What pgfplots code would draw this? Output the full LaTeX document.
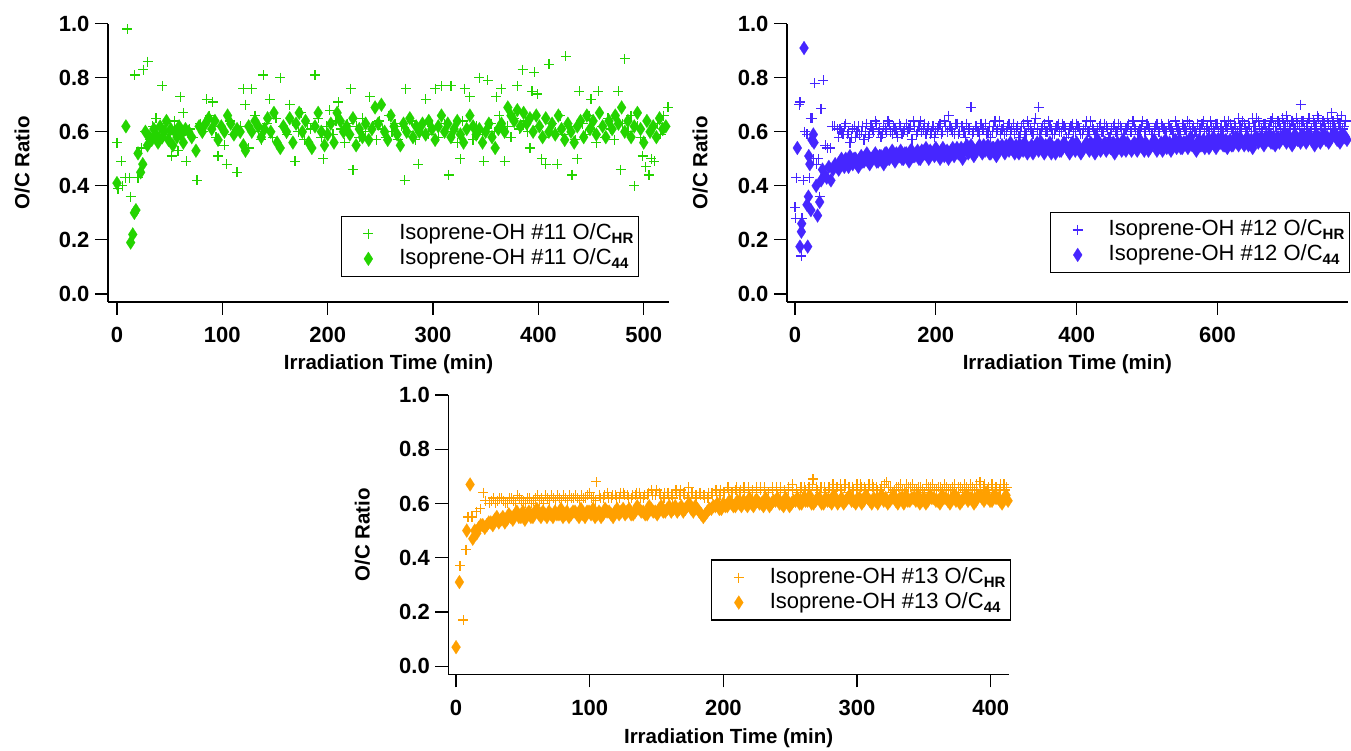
\documentclass[border=0pt]{standalone}
\usepackage{fontspec}
\setmainfont{Liberation Sans}
\usepackage{pgfplots}
\pgfplotsset{compat=1.18}
\definecolor{cgreen}{RGB}{36,212,0}
\definecolor{cblue}{RGB}{70,38,255}
\definecolor{corange}{RGB}{255,160,0}
\newcommand{\sub}[1]{\raisebox{-4pt}{\fontsize{15}{15}\selectfont\bfseries #1}}
\pgfplotsset{
  igor/.style={
    scale only axis,
    axis x line*=bottom, axis y line*=left,
    axis line style={-, line width=1.3pt},
    tick style={black, line width=1.3pt},
    major tick length=13pt,
    tick align=outside,
    ymin=-0.03, ymax=1.0,
    ytick={0,0.2,0.4,0.6,0.8,1.0}, yticklabels={0.0,0.2,0.4,0.6,0.8,1.0},
    ticklabel style={font=\fontsize{22}{22}\selectfont\bfseries},
    xticklabel style={yshift=-9pt},
    yticklabel style={xshift=-2pt},
    label style={font=\fontsize{20.5}{20.5}\selectfont\bfseries},
    xlabel={Irradiation Time (min)}, ylabel={O/C Ratio},
    clip=false,
    legend style={anchor=south east, draw=black, line width=1.2pt, fill=white,
      font=\fontsize{22}{22}\selectfont, inner xsep=5pt, inner ysep=7pt, row sep=4pt,
      cells={anchor=west}, nodes={inner sep=0pt, text height=16pt, text depth=5pt},
      /tikz/every odd column/.append style={column sep=9pt}},
  },
  hr/.style={only marks, mark=+, mark size=5pt, line width=1.2pt,
    legend image code/.code={\draw[##1] plot coordinates {(22pt,0pt)}; \path[draw=none,fill=none] (0pt,-3pt) rectangle (44pt,3pt);}},
  c44/.style={only marks, mark=diamond*, mark size=7pt, line width=0.1pt, mark options={xscale=0.86},
    legend image code/.code={\draw[##1] plot coordinates {(22pt,0pt)}; \path[draw=none,fill=none] (0pt,-3pt) rectangle (44pt,3pt);}},
}
\begin{document}
\begin{tikzpicture}
\path[use as bounding box] (0pt,0pt) rectangle (1351pt,751pt);
% ---------------- Panel 1 ----------------
\begin{axis}[igor, at={(108pt,449pt)}, anchor=south west, width=561pt, height=278.3pt,
  xmin=-8.5, xmax=524, xtick={0,100,200,300,400,500}, xticklabels={0,100,200,300,400,500},
  xlabel style={at={(axis description cs:0.5,-0.222)}, anchor=center},
  ylabel style={at={(axis description cs:-0.153,0.5)}, anchor=center},
  legend style={at={(axis description cs:0.9465,0.09)}}]
\addplot[hr, cgreen] table {
t v
0 0.56
1 0.39
4 0.49
5 0.40
8 0.43
10 0.98
12 0.43
13 0.36
17 0.81
20 0.43
23 0.54
25 0.83
27 0.60
29 0.86
31 0.57
34 0.62
37 0.65
40 0.58
43 0.77
46 0.63
49 0.59
52 0.51
55 0.64
58 0.53
60 0.73
63 0.67
66 0.49
69 0.61
72 0.58
76 0.42
79 0.63
82 0.60
85 0.72
88 0.66
91 0.71
94 0.58
96 0.51
99 0.62
102 0.55
104 0.48
107 0.64
110 0.59
114 0.45
117 0.62
120 0.76
122 0.70
125 0.54
128 0.76
131 0.66
134 0.60
137 0.57
139 0.81
142 0.63
145 0.72
148 0.58
151 0.65
155 0.80
158 0.62
161 0.59
164 0.70
167 0.64
169 0.49
172 0.60
175 0.67
178 0.57
181 0.63
184 0.61
188 0.81
191 0.65
194 0.58
196 0.50
199 0.62
202 0.68
205 0.59
208 0.64
210 0.71
213 0.61
216 0.56
219 0.63
222 0.76
224 0.46
227 0.62
230 0.58
233 0.65
236 0.60
240 0.73
243 0.62
246 0.57
249 0.64
252 0.61
255 0.58
258 0.66
261 0.60
264 0.63
267 0.57
270 0.62
273 0.42
274 0.76
277 0.60
280 0.64
283 0.57
286 0.48
289 0.63
293 0.72
296 0.59
299 0.62
302 0.76
305 0.58
308 0.77
311 0.63
315 0.44
317 0.77
320 0.60
323 0.56
326 0.50
328 0.64
330 0.76
333 0.61
335 0.73
338 0.57
341 0.62
344 0.80
347 0.59
348 0.49
352 0.79
355 0.63
358 0.60
360 0.73
363 0.66
365 0.76
368 0.49
371 0.62
374 0.58
377 0.65
380 0.77
382 0.61
385 0.83
388 0.64
390 0.60
392 0.54
394 0.75
396 0.82
399 0.74
401 0.62
403 0.50
405 0.58
407 0.48
410 0.85
413 0.63
416 0.60
418 0.48
421 0.66
423 0.59
426 0.88
429 0.62
432 0.44
435 0.57
437 0.50
439 0.75
442 0.63
445 0.59
448 0.66
450 0.72
453 0.60
455 0.56
457 0.75
460 0.62
463 0.58
466 0.65
469 0.61
472 0.57
476 0.75
478 0.46
480 0.63
482 0.87
485 0.60
488 0.66
491 0.40
494 0.62
497 0.58
499 0.51
502 0.47
505 0.44
507 0.50
510 0.49
513 0.63
516 0.59
519 0.66
523 0.69
};
\addlegendentry{Isoprene-OH \#11 O/C\sub{HR}}
\addplot[c44, cgreen] table {
t v
0 0.41
8.5 0.62
13 0.19
15 0.22
16.5 0.30
18 0.31
20 0.52
22.5 0.45
24.5 0.48
27 0.60
29 0.55
31 0.58
33 0.57
35 0.61
37 0.59
39 0.56
41 0.62
43 0.58
45 0.60
47 0.64
49 0.57
51 0.61
53 0.55
55 0.60
57 0.58
59 0.62
61 0.59
63 0.56
65 0.61
68 0.60
71 0.58
75 0.53
78 0.62
81 0.60
84 0.63
87 0.65
90 0.61
93 0.64
96 0.57
99 0.62
102 0.60
105 0.66
108 0.63
111 0.59
114 0.61
117 0.60
120 0.55
122 0.53
125 0.62
128 0.60
131 0.64
134 0.62
137 0.58
140 0.61
143 0.65
146 0.60
149 0.67
152 0.56
155 0.54
158 0.62
161 0.60
164 0.65
167 0.56
170 0.63
173 0.67
176 0.60
179 0.64
182 0.56
185 0.54
188 0.62
191 0.67
194 0.60
197 0.55
200 0.59
203 0.63
206 0.56
209 0.67
212 0.64
215 0.60
218 0.62
221 0.59
224 0.65
227 0.55
230 0.61
233 0.58
236 0.63
239 0.57
242 0.61
245 0.69
248 0.63
251 0.70
254 0.60
257 0.57
260 0.66
263 0.62
266 0.59
269 0.55
272 0.63
275 0.60
278 0.65
281 0.58
284 0.62
287 0.60
290 0.63
293 0.59
296 0.64
299 0.61
302 0.57
305 0.62
308 0.66
311 0.60
314 0.63
317 0.58
320 0.61
323 0.64
326 0.59
329 0.56
332 0.61
335 0.66
338 0.62
341 0.59
344 0.61
347 0.56
350 0.60
353 0.63
356 0.58
359 0.54
362 0.61
365 0.63
368 0.60
371 0.69
374 0.66
377 0.64
380 0.68
383 0.62
386 0.67
389 0.63
392 0.65
395 0.60
398 0.66
401 0.62
404 0.58
407 0.65
410 0.60
413 0.63
416 0.59
419 0.66
422 0.61
425 0.57
428 0.63
431 0.60
434 0.56
437 0.62
440 0.64
443 0.58
446 0.66
449 0.61
452 0.64
455 0.59
458 0.67
461 0.62
464 0.58
467 0.64
470 0.61
473 0.66
476 0.63
479 0.69
482 0.60
485 0.64
488 0.58
491 0.62
494 0.67
497 0.61
500 0.56
503 0.64
506 0.60
509 0.62
512 0.58
515 0.65
518 0.61
521 0.62
};
\addlegendentry{Isoprene-OH \#11 O/C\sub{44}}
\end{axis}
% ---------------- Panel 2 ----------------
\begin{axis}[igor, at={(787pt,449pt)}, anchor=south west, width=560.7pt, height=278.3pt,
  xmin=-11.4, xmax=785, xtick={0,200,400,600}, xticklabels={0,200,400,600},
  xlabel style={at={(axis description cs:0.5,-0.222)}, anchor=center},
  ylabel style={at={(axis description cs:-0.155,0.5)}, anchor=center},
  legend style={at={(axis description cs:1.004,0.104)}}]
\addplot[hr, cblue] table {
t v
0 0.32
1 0.28
2 0.43
6 0.70
7 0.71
9 0.14
10 0.28
12 0.42
14 0.60
17 0.59
20 0.43
22 0.65
24 0.65
26 0.50
28 0.78
30 0.48
33 0.50
35 0.36
37 0.685
40 0.79
43 0.55
46 0.54
50 0.54
53 0.62
56 0.62
60 0.61
62 0.58
66 0.60
70 0.62
74 0.59
78 0.56
82 0.61
86 0.58
90 0.62
94 0.60
98 0.57
102 0.63
106 0.59
110 0.61
114 0.64
118 0.60
122 0.58
126 0.62
130 0.60
134 0.63
138 0.59
142 0.61
146 0.58
150 0.62
154 0.60
158 0.63
162 0.61
166 0.57
170 0.62
174 0.60
178 0.64
182 0.61
186 0.59
190 0.62
194 0.60
198 0.58
202 0.61
206 0.63
210 0.60
214 0.62
218 0.66
222 0.61
226 0.59
230 0.63
234 0.60
238 0.62
242 0.58
246 0.61
250 0.69
254 0.60
258 0.62
262 0.59
266 0.61
270 0.63
274 0.60
278 0.58
282 0.62
286 0.60
290 0.64
294 0.61
298 0.59
302 0.62
306 0.60
310 0.63
314 0.61
318 0.58
322 0.62
326 0.60
330 0.64
334 0.61
338 0.59
342 0.65
346 0.69
350 0.61
354 0.63
358 0.60
362 0.62
366 0.59
370 0.61
374 0.63
378 0.60
382 0.62
386 0.58
390 0.61
394 0.63
398 0.60
402 0.62
406 0.59
410 0.61
414 0.64
418 0.60
422 0.62
426 0.59
430 0.61
434 0.63
438 0.60
442 0.62
446 0.58
450 0.61
454 0.63
458 0.60
462 0.62
466 0.59
470 0.61
474 0.63
478 0.60
482 0.62
486 0.59
490 0.61
494 0.64
498 0.60
502 0.62
506 0.59
510 0.61
514 0.63
518 0.60
522 0.62
526 0.60
530 0.63
534 0.61
538 0.59
542 0.62
546 0.60
550 0.63
554 0.61
558 0.64
562 0.60
566 0.62
570 0.59
574 0.61
578 0.63
582 0.60
586 0.62
590 0.64
594 0.61
598 0.63
602 0.60
606 0.62
610 0.64
614 0.61
618 0.63
622 0.60
626 0.62
630 0.65
634 0.61
638 0.63
642 0.60
646 0.62
650 0.65
654 0.62
658 0.64
662 0.61
666 0.63
670 0.60
674 0.62
678 0.65
682 0.62
686 0.64
690 0.61
694 0.63
698 0.66
702 0.62
706 0.64
710 0.61
714 0.63
718 0.70
722 0.64
726 0.62
730 0.65
734 0.61
738 0.63
742 0.66
746 0.62
750 0.64
754 0.61
758 0.63
762 0.67
766 0.62
770 0.65
774 0.63
778 0.61
782 0.64
64 0.61
68 0.59
72 0.63
76 0.60
80 0.58
84 0.62
88 0.60
92 0.59
96 0.62
100 0.60
104 0.58
108 0.62
112 0.60
116 0.63
120 0.61
124 0.59
128 0.61
132 0.64
136 0.60
140 0.62
144 0.60
148 0.63
152 0.59
156 0.61
160 0.60
164 0.62
168 0.64
172 0.59
176 0.62
180 0.60
184 0.63
188 0.61
192 0.59
196 0.62
200 0.60
204 0.62
208 0.59
212 0.64
216 0.60
220 0.62
224 0.60
228 0.63
232 0.59
236 0.62
240 0.60
244 0.63
248 0.61
252 0.59
256 0.62
260 0.60
264 0.63
268 0.61
272 0.59
276 0.62
280 0.60
284 0.64
288 0.61
292 0.59
296 0.62
300 0.60
304 0.63
308 0.61
312 0.59
316 0.62
320 0.60
324 0.63
328 0.59
332 0.62
336 0.60
340 0.63
344 0.61
348 0.59
352 0.62
356 0.60
360 0.64
364 0.61
368 0.59
372 0.62
376 0.60
380 0.63
384 0.61
388 0.59
392 0.62
396 0.60
400 0.63
404 0.61
408 0.59
412 0.62
416 0.60
420 0.64
424 0.61
428 0.59
432 0.62
436 0.60
440 0.63
444 0.61
448 0.59
452 0.62
456 0.60
460 0.63
464 0.61
468 0.59
472 0.62
476 0.60
480 0.64
484 0.61
488 0.60
492 0.62
496 0.60
500 0.63
504 0.61
508 0.59
512 0.62
516 0.60
520 0.63
524 0.61
528 0.60
532 0.62
536 0.60
540 0.64
544 0.61
548 0.59
552 0.62
556 0.60
560 0.63
564 0.61
568 0.60
572 0.63
576 0.61
580 0.64
584 0.61
588 0.60
592 0.62
596 0.60
600 0.63
604 0.61
608 0.60
612 0.62
616 0.64
620 0.61
624 0.63
628 0.60
632 0.62
636 0.64
640 0.61
644 0.63
648 0.60
652 0.62
656 0.65
660 0.62
664 0.60
668 0.63
672 0.61
676 0.64
680 0.62
684 0.60
688 0.63
692 0.65
696 0.62
700 0.64
704 0.61
708 0.63
712 0.65
716 0.62
720 0.64
724 0.61
728 0.63
732 0.60
736 0.64
740 0.62
744 0.65
748 0.61
752 0.63
756 0.65
760 0.62
764 0.64
768 0.61
772 0.63
776 0.66
780 0.62
};
\addlegendentry{Isoprene-OH \#12 O/C\sub{HR}}
\addplot[c44, cblue] table {
t v
3.3 0.54
7 0.175
9 0.23
9.5 0.26
12.8 0.91
17 0.33
18 0.175
19 0.36
19.5 0.51
21 0.48
22.5 0.31
24 0.57
26 0.59
27 0.56
30 0.40
32 0.29
35 0.34
37 0.42
39 0.46
42 0.44
45 0.43
48 0.47
51 0.42
54 0.46
57 0.48
60 0.47
64 0.49
68 0.48
72 0.50
76 0.47
80 0.49
84 0.50
88 0.48
92 0.50
96 0.49
100 0.51
104 0.49
108 0.50
112 0.51
116 0.49
120 0.51
124 0.50
128 0.52
132 0.50
136 0.51
140 0.50
144 0.52
148 0.51
152 0.50
156 0.52
160 0.51
164 0.53
168 0.51
172 0.52
176 0.50
180 0.53
184 0.52
188 0.51
192 0.53
196 0.52
200 0.54
204 0.52
208 0.53
212 0.51
216 0.53
220 0.52
224 0.54
228 0.53
232 0.52
236 0.54
240 0.53
244 0.55
248 0.53
252 0.54
256 0.52
260 0.54
264 0.53
268 0.55
272 0.54
276 0.52
280 0.54
284 0.53
288 0.55
292 0.54
296 0.53
300 0.55
304 0.53
308 0.54
312 0.52
316 0.54
320 0.55
324 0.53
328 0.54
332 0.53
336 0.55
340 0.54
344 0.56
348 0.54
352 0.53
356 0.55
360 0.54
364 0.52
368 0.54
372 0.55
376 0.53
380 0.54
384 0.55
388 0.53
392 0.55
396 0.54
400 0.56
404 0.54
408 0.53
412 0.55
416 0.54
420 0.56
424 0.55
428 0.53
432 0.55
436 0.54
440 0.56
444 0.55
448 0.54
452 0.56
456 0.54
460 0.55
464 0.53
468 0.55
472 0.56
476 0.54
480 0.55
484 0.54
488 0.56
492 0.55
496 0.53
500 0.55
504 0.54
508 0.56
512 0.55
516 0.54
520 0.56
524 0.55
528 0.54
532 0.56
536 0.55
540 0.57
544 0.55
548 0.54
552 0.56
556 0.55
560 0.57
564 0.55
568 0.54
572 0.56
576 0.55
580 0.57
584 0.56
588 0.54
592 0.56
596 0.55
600 0.57
604 0.56
608 0.55
612 0.57
616 0.56
620 0.55
624 0.57
628 0.56
632 0.58
636 0.56
640 0.57
644 0.55
648 0.57
652 0.56
656 0.58
660 0.57
664 0.56
668 0.58
672 0.57
676 0.56
680 0.58
684 0.57
688 0.56
692 0.58
696 0.57
700 0.59
704 0.57
708 0.56
712 0.58
716 0.57
720 0.59
724 0.58
728 0.57
732 0.58
736 0.57
740 0.59
744 0.58
748 0.57
752 0.59
756 0.58
760 0.57
764 0.59
768 0.58
772 0.57
776 0.59
780 0.58
784 0.57
62 0.46
66 0.50
70 0.47
74 0.49
78 0.51
82 0.48
86 0.50
90 0.47
94 0.51
98 0.49
102 0.52
106 0.48
110 0.50
114 0.52
118 0.49
122 0.51
126 0.48
130 0.52
134 0.50
138 0.53
142 0.49
146 0.51
150 0.53
154 0.50
158 0.52
162 0.49
166 0.53
170 0.51
174 0.53
178 0.50
182 0.52
186 0.54
190 0.50
194 0.52
198 0.51
202 0.53
206 0.50
210 0.54
214 0.52
218 0.50
222 0.53
226 0.51
230 0.54
234 0.52
238 0.50
242 0.54
246 0.52
250 0.55
254 0.51
258 0.53
262 0.55
266 0.52
270 0.53
274 0.55
278 0.52
282 0.54
286 0.51
290 0.53
294 0.55
298 0.52
302 0.54
306 0.56
310 0.53
314 0.55
318 0.52
322 0.54
326 0.56
330 0.52
334 0.54
338 0.52
342 0.55
346 0.53
350 0.56
354 0.52
358 0.54
362 0.56
366 0.53
370 0.52
374 0.55
378 0.53
382 0.56
386 0.54
390 0.52
394 0.56
398 0.53
402 0.55
406 0.52
410 0.54
414 0.56
418 0.53
422 0.55
426 0.52
430 0.57
434 0.53
438 0.55
442 0.53
446 0.56
450 0.54
454 0.52
458 0.56
462 0.54
466 0.57
470 0.53
474 0.55
478 0.53
482 0.56
486 0.53
490 0.57
494 0.54
498 0.56
502 0.53
506 0.55
510 0.57
514 0.53
518 0.55
522 0.53
526 0.57
530 0.55
534 0.53
538 0.56
542 0.54
546 0.57
550 0.54
554 0.56
558 0.54
562 0.58
566 0.55
570 0.53
574 0.57
578 0.55
582 0.54
586 0.57
590 0.55
594 0.58
598 0.54
602 0.56
606 0.58
610 0.55
614 0.54
618 0.57
622 0.55
626 0.58
630 0.55
634 0.57
638 0.55
642 0.58
646 0.56
650 0.54
654 0.58
658 0.56
662 0.58
666 0.55
670 0.57
674 0.59
678 0.56
682 0.55
686 0.58
690 0.57
694 0.59
698 0.56
702 0.58
706 0.55
710 0.59
714 0.57
718 0.56
722 0.58
726 0.56
730 0.59
734 0.57
738 0.55
742 0.58
746 0.56
750 0.59
754 0.57
758 0.56
762 0.58
766 0.60
770 0.57
774 0.56
778 0.59
782 0.58
};
\addlegendentry{Isoprene-OH \#12 O/C\sub{44}}
\end{axis}
% ---------------- Panel 3 ----------------
\begin{axis}[igor, at={(448.3pt,76.7pt)}, anchor=south west, width=560.7pt, height=279.3pt,
  xmin=-5.8, xmax=413.7, xtick={0,100,200,300,400}, xticklabels={0,100,200,300,400},
  xlabel style={at={(axis description cs:0.5,-0.228)}, anchor=center},
  ylabel style={at={(axis description cs:-0.153,0.5)}, anchor=center},
  legend style={at={(axis description cs:1.0036,0.192)}}]
\addplot[hr, corange] table {
t v
3 0.37
5.5 0.17
7.5 0.43
9 0.55
12 0.55
15 0.57
18 0.58
20.5 0.64
22 0.61
25 0.60
28 0.62
31 0.61
34 0.62
37 0.60
40 0.62
43 0.61
46 0.63
49 0.61
52 0.60
55 0.62
58 0.61
61 0.63
64 0.62
67 0.63
70 0.61
73 0.62
76 0.63
79 0.61
82 0.62
85 0.63
88 0.62
91 0.62
94 0.63
97 0.62
100 0.64
103 0.62
105 0.68
108 0.62
111 0.63
114 0.62
117 0.63
120 0.62
123 0.64
126 0.63
129 0.62
132 0.63
135 0.64
138 0.62
141 0.63
144 0.64
147 0.63
150 0.65
153 0.63
156 0.64
159 0.63
162 0.62
165 0.64
168 0.65
171 0.63
174 0.66
177 0.64
180 0.62
183 0.63
186 0.62
189 0.64
192 0.63
195 0.64
198 0.65
201 0.64
204 0.65
207 0.64
210 0.66
213 0.65
216 0.64
219 0.66
222 0.65
225 0.64
228 0.66
231 0.65
234 0.64
237 0.65
240 0.66
243 0.64
246 0.65
249 0.66
252 0.65
255 0.64
258 0.66
261 0.65
264 0.66
267 0.69
270 0.65
273 0.66
276 0.64
279 0.66
282 0.67
285 0.66
288 0.65
291 0.67
294 0.66
297 0.65
300 0.67
303 0.66
306 0.65
309 0.67
312 0.66
315 0.65
318 0.66
322 0.68
325 0.66
328 0.65
331 0.66
334 0.65
337 0.67
340 0.66
343 0.65
346 0.66
349 0.65
352 0.67
355 0.66
358 0.65
361 0.66
364 0.65
367 0.66
370 0.65
373 0.67
376 0.66
379 0.65
382 0.66
385 0.67
388 0.65
392 0.68
395 0.66
398 0.65
401 0.67
404 0.66
407 0.65
410 0.67
412 0.66
26.5 0.61
29.5 0.60
32.5 0.62
35.5 0.61
38.5 0.60
41.5 0.62
44.5 0.60
47.5 0.62
50.5 0.61
53.5 0.62
56.5 0.60
59.5 0.62
62.5 0.61
65.5 0.60
68.5 0.62
71.5 0.63
74.5 0.61
77.5 0.62
80.5 0.63
83.5 0.61
86.5 0.62
89.5 0.63
92.5 0.61
95.5 0.62
98.5 0.63
101.5 0.62
104.5 0.61
107.5 0.63
110.5 0.62
113.5 0.64
116.5 0.62
119.5 0.63
122.5 0.62
125.5 0.64
128.5 0.63
131.5 0.62
134.5 0.63
137.5 0.64
140.5 0.62
143.5 0.63
146.5 0.65
149.5 0.63
152.5 0.64
155.5 0.62
158.5 0.64
161.5 0.63
164.5 0.65
167.5 0.63
170.5 0.64
173.5 0.62
176.5 0.64
179.5 0.63
182.5 0.64
185.5 0.63
188.5 0.62
191.5 0.64
194.5 0.65
197.5 0.63
200.5 0.64
203.5 0.66
206.5 0.64
209.5 0.65
212.5 0.64
215.5 0.66
218.5 0.65
221.5 0.64
224.5 0.66
227.5 0.65
230.5 0.66
233.5 0.64
236.5 0.66
239.5 0.65
242.5 0.66
245.5 0.64
248.5 0.65
251.5 0.67
254.5 0.65
257.5 0.64
260.5 0.66
263.5 0.65
266.5 0.67
269.5 0.66
272.5 0.64
275.5 0.66
278.5 0.65
281.5 0.66
284.5 0.65
287.5 0.67
290.5 0.66
293.5 0.64
296.5 0.66
299.5 0.65
302.5 0.67
305.5 0.66
308.5 0.65
311.5 0.67
314.5 0.66
317.5 0.65
320.5 0.67
323.5 0.66
326.5 0.64
329.5 0.66
332.5 0.67
335.5 0.65
338.5 0.66
341.5 0.67
344.5 0.65
347.5 0.66
350.5 0.64
353.5 0.66
356.5 0.67
359.5 0.65
362.5 0.66
365.5 0.67
368.5 0.65
371.5 0.66
374.5 0.64
377.5 0.66
380.5 0.67
383.5 0.65
386.5 0.66
389.5 0.67
392.5 0.65
395.5 0.67
398.5 0.66
401.5 0.64
404.5 0.66
407.5 0.67
410.5 0.65
};
\addlegendentry{Isoprene-OH \#13 O/C\sub{HR}}
\addplot[c44, corange] table {
t v
0 0.07
2.5 0.31
8 0.50
10.5 0.67
12.5 0.47
14 0.50
17 0.51
20 0.52
23 0.52
26 0.53
29 0.54
32 0.53
35 0.55
38 0.54
41 0.55
44 0.56
47 0.55
50 0.57
53 0.56
56 0.55
59 0.57
62 0.56
65 0.57
68 0.55
71 0.56
74 0.57
77 0.56
80 0.55
83 0.57
86 0.56
89 0.57
92 0.55
95 0.56
98 0.57
101 0.56
104 0.55
107 0.57
110 0.56
113 0.57
116 0.56
119 0.57
122 0.56
125 0.58
128 0.57
131 0.56
134 0.57
137 0.58
140 0.57
143 0.56
146 0.58
149 0.57
152 0.58
155 0.57
158 0.58
161 0.57
164 0.59
167 0.58
170 0.57
173 0.59
176 0.58
179 0.59
182 0.57
185 0.55
188 0.57
191 0.58
194 0.59
197 0.58
200 0.60
203 0.59
206 0.60
209 0.59
212 0.60
215 0.61
218 0.59
221 0.60
224 0.61
227 0.60
230 0.59
233 0.61
236 0.60
239 0.61
242 0.60
245 0.59
248 0.61
251 0.60
254 0.61
257 0.60
260 0.62
263 0.61
266 0.60
269 0.61
272 0.62
275 0.60
278 0.61
281 0.60
284 0.62
287 0.61
290 0.60
293 0.62
296 0.61
299 0.60
302 0.62
305 0.61
308 0.62
311 0.60
314 0.61
317 0.62
320 0.61
323 0.60
326 0.62
329 0.61
332 0.62
335 0.60
338 0.61
341 0.62
344 0.61
347 0.60
350 0.62
353 0.61
356 0.62
359 0.61
362 0.60
365 0.62
368 0.61
371 0.62
374 0.61
377 0.60
380 0.62
383 0.61
386 0.62
389 0.61
392 0.63
395 0.61
398 0.62
401 0.61
404 0.62
407 0.61
410 0.62
413 0.61
15.5 0.49
18.5 0.52
21.5 0.51
24.5 0.53
27.5 0.52
30.5 0.55
33.5 0.54
36.5 0.53
39.5 0.56
42.5 0.54
45.5 0.57
48.5 0.55
51.5 0.54
54.5 0.57
57.5 0.55
60.5 0.58
63.5 0.55
66.5 0.56
69.5 0.57
72.5 0.55
75.5 0.56
78.5 0.58
81.5 0.56
84.5 0.55
87.5 0.57
90.5 0.56
93.5 0.58
96.5 0.55
99.5 0.57
102.5 0.58
105.5 0.56
108.5 0.55
111.5 0.58
114.5 0.57
117.5 0.55
120.5 0.58
123.5 0.57
126.5 0.56
129.5 0.58
132.5 0.56
135.5 0.59
138.5 0.57
141.5 0.56
144.5 0.59
147.5 0.57
150.5 0.56
153.5 0.59
156.5 0.57
159.5 0.59
162.5 0.58
165.5 0.57
168.5 0.59
171.5 0.58
174.5 0.60
177.5 0.57
180.5 0.58
183.5 0.56
186.5 0.56
189.5 0.58
192.5 0.59
195.5 0.60
198.5 0.58
201.5 0.59
204.5 0.61
207.5 0.59
210.5 0.61
213.5 0.59
216.5 0.60
219.5 0.62
222.5 0.59
225.5 0.61
228.5 0.60
231.5 0.62
234.5 0.59
237.5 0.61
240.5 0.62
243.5 0.60
246.5 0.62
249.5 0.59
252.5 0.61
255.5 0.62
258.5 0.60
261.5 0.61
264.5 0.63
267.5 0.60
270.5 0.62
273.5 0.60
276.5 0.62
279.5 0.61
282.5 0.63
285.5 0.60
288.5 0.62
291.5 0.61
294.5 0.63
297.5 0.61
300.5 0.62
303.5 0.60
306.5 0.63
309.5 0.61
312.5 0.62
315.5 0.60
318.5 0.63
321.5 0.62
324.5 0.61
327.5 0.63
330.5 0.60
333.5 0.62
336.5 0.63
339.5 0.61
342.5 0.62
345.5 0.63
348.5 0.61
351.5 0.60
354.5 0.63
357.5 0.62
360.5 0.61
363.5 0.63
366.5 0.62
369.5 0.60
372.5 0.63
375.5 0.62
378.5 0.61
381.5 0.63
384.5 0.62
387.5 0.60
390.5 0.63
393.5 0.62
396.5 0.64
399.5 0.61
402.5 0.63
405.5 0.62
408.5 0.60
411.5 0.63
};
\addlegendentry{Isoprene-OH \#13 O/C\sub{44}}
\end{axis}
\end{tikzpicture}
\end{document}
